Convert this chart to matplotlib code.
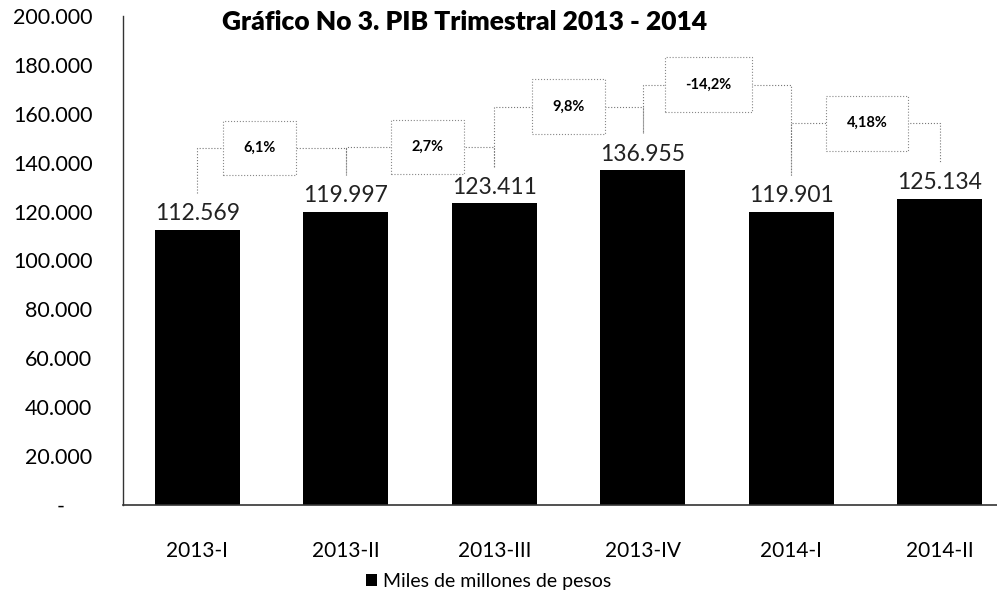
import matplotlib.pyplot as plt

plt.rcParams['font.family'] = ['Lato', 'DejaVu Sans']

quarters = ["2013-I", "2013-II", "2013-III", "2013-IV", "2014-I", "2014-II"]
pib = [112569, 119997, 123411, 136955, 119901, 125134]
growth = ["6,1%", "2,7%", "9,8%", "-14,2%", "4,18%"]
yticks = [0, 20000, 40000, 60000, 80000, 100000, 120000, 140000, 160000, 180000, 200000]

# where the growth boxes sit (shift from midpoint, height above the taller bar)
box_dx = [-0.08, 0.05, 0.0, -0.06, 0.01]
box_dy = [26000, 23000, 26000, 35000, 31000]


def fmt(v):
    return f"{v:,}".replace(",", ".")


fig = plt.figure(figsize=(9.97, 5.96), dpi=100)
ax = fig.add_axes([0.1234, 0.1527, 0.8937, 0.8205])

x = list(range(len(quarters)))
ax.bar(x, pib, width=0.57, color='black', label='Miles de millones de pesos', zorder=2)

for xi, v in zip(x, pib):
    ax.annotate(fmt(v), (xi, v), xytext=(0, 4), textcoords='offset points',
                ha='center', va='bottom', fontsize=16.5, color='#222222')

for i, txt in enumerate(growth):
    xc = i + 0.5 + box_dx[i]
    yc = max(pib[i], pib[i + 1]) + box_dy[i]
    ax.plot([i, i, i + 1, i + 1],
            [pib[i] + 15000, yc, yc, pib[i + 1] + 15000],
            color='#777777', lw=0.8, ls=':', zorder=1)
    ax.text(xc, yc, txt, ha='center', va='center', fontsize=10.5, fontweight='bold',
            bbox=dict(boxstyle='square,pad=1.4', fc='white', ec='#888888', ls=':', lw=0.8),
            zorder=3)

ax.set_xlim(-0.5, 5.5)
ax.set_ylim(0, 200000)
ax.set_yticks(yticks)
ax.set_yticklabels(["-     "] + [fmt(t) for t in yticks[1:]])
ax.set_xticks(x)
ax.set_xticklabels(quarters)
ax.tick_params(axis='y', length=0, labelsize=15.5, pad=22)
ax.tick_params(axis='x', length=0, labelsize=15, pad=26)

for s in ['top', 'right']:
    ax.spines[s].set_visible(False)
ax.spines['left'].set_color('#333333')
ax.spines['left'].set_linewidth(1.0)
ax.spines['bottom'].set_color('#333333')
ax.spines['bottom'].set_linewidth(1.2)

fig.text(0.466, 0.963, "Gráfico No 3. PIB Trimestral 2013 - 2014",
         ha='center', va='center', fontsize=19, fontweight='heavy')

fig.legend(loc='center', bbox_to_anchor=(0.49, 0.025), frameon=False, fontsize=14,
           handlelength=0.6, handleheight=0.6, handletextpad=0.3)

fig.savefig('out.png', dpi=100)
